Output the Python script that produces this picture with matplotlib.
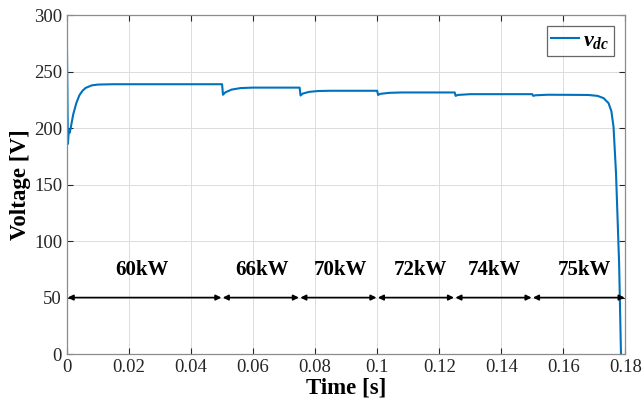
import matplotlib
matplotlib.use("Agg")
import matplotlib.pyplot as plt

plt.rcParams['font.family'] = ['Liberation Serif', 'DejaVu Serif']
plt.rcParams['mathtext.fontset'] = 'custom'
plt.rcParams['mathtext.it'] = 'Liberation Serif:bold:italic'
plt.rcParams['mathtext.rm'] = 'Liberation Serif:bold'

# Data
t = [0.0, 0.0003, 0.0006, 0.0009, 0.0012, 0.002, 0.003, 0.004, 0.005, 0.006, 0.008,
     0.010, 0.015, 0.0500, 0.0503, 0.0510, 0.053, 0.056, 0.060, 0.075, 0.0753, 0.076,
     0.078, 0.081, 0.085, 0.100, 0.1003, 0.101, 0.104, 0.108, 0.125, 0.1253, 0.126,
     0.130, 0.150, 0.1503, 0.151, 0.155, 0.168, 0.171, 0.173, 0.1746, 0.1755, 0.1762,
     0.177, 0.178, 0.1786]
vdc = [270, 186, 198, 196, 200, 212, 222, 229, 233, 235.5, 237.8,
       238.5, 238.8, 238.8, 229.5, 231.5, 234, 235.4, 235.8, 235.8, 228.8, 230.5,
       232, 232.8, 233, 233, 229.3, 230.3, 231.2, 231.5, 231.5, 228.5, 229.3,
       230, 230, 228.5, 229, 229.5, 229.3, 228.5, 226.5, 222, 215, 201,
       160, 80, 0]

seg_edges = [0.0, 0.05, 0.075, 0.1, 0.125, 0.15, 0.18]
seg_labels = ['60kW', '66kW', '70kW', '72kW', '74kW', '75kW']
label_x = [0.0242, 0.063, 0.088, 0.114, 0.1377, 0.1667]
arrow_y = 50
label_y = 74

fig = plt.figure(figsize=(6.44, 4.07), dpi=100)
ax = fig.add_axes([0.104, 0.130, 0.867, 0.833])

ax.plot(t, vdc, color='#0072BD', lw=1.5, label=r'$v_{dc}$')

for i in range(len(seg_labels)):
    ax.annotate('', xy=(seg_edges[i + 1], arrow_y), xytext=(seg_edges[i], arrow_y),
                arrowprops=dict(arrowstyle='<|-|>', color='black', lw=1.2,
                                mutation_scale=8, shrinkA=0.5, shrinkB=0.5))
    ax.text(label_x[i], label_y, seg_labels[i], ha='center', va='center',
            fontsize=15, fontweight='bold')

ax.set_xlim(0, 0.18)
ax.set_ylim(0, 300)
ax.set_xticks([0, 0.02, 0.04, 0.06, 0.08, 0.1, 0.12, 0.14, 0.16, 0.18])
ax.set_xticklabels(['0', '0.02', '0.04', '0.06', '0.08', '0.1', '0.12', '0.14', '0.16', '0.18'])
ax.set_yticks([0, 50, 100, 150, 200, 250, 300])
ax.grid(True, color='#dcdcdc', lw=0.7)
ax.set_axisbelow(True)
ax.tick_params(direction='in', top=True, right=True, labelsize=13.5,
               colors='#262626', length=4, width=0.8)
for s in ax.spines.values():
    s.set_color('#8c8c8c')
    s.set_linewidth(0.9)

ax.set_xlabel('Time [s]', fontsize=16.5, fontweight='bold', labelpad=1)
ax.set_ylabel('Voltage [V]', fontsize=16.5, fontweight='bold', labelpad=2)

leg = ax.legend(loc='upper right', fontsize=16, frameon=True, fancybox=False,
                handlelength=1.25, handletextpad=0.2, borderpad=0.2,
                borderaxespad=0.5)
leg.get_frame().set_edgecolor('#404040')
leg.get_frame().set_linewidth(0.9)

fig.savefig('out.png', dpi=100)
